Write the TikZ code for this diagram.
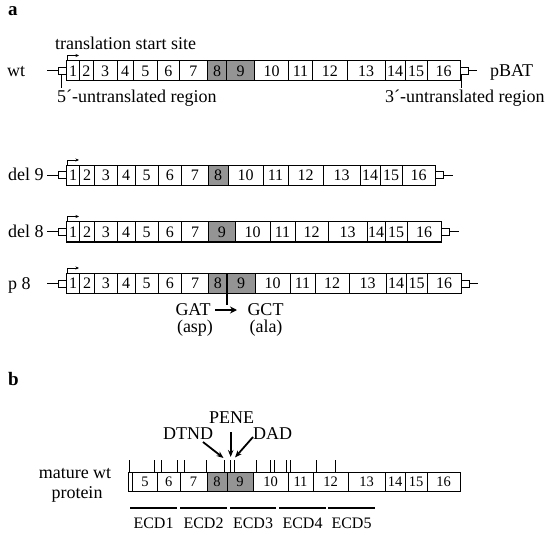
\documentclass[tikz,border=0pt]{standalone}
\usepackage{fontspec}
\setmainfont{Liberation Serif}
\usetikzlibrary{arrows.meta}
\tikzset{
  exon/.style={draw, line width=1pt, inner sep=0pt, outer sep=0pt, minimum height=20pt, font=\fontsize{16}{16}\selectfont},
  pexon/.style={exon, minimum height=19pt, font=\fontsize{14.5}{15}\selectfont},
  utr/.style={draw, line width=1pt, inner sep=0pt, outer sep=0pt, minimum width=8pt, minimum height=7pt},
  lbl/.style={inner sep=0pt, font=\fontsize{18}{18}\selectfont},
  ecdlbl/.style={inner sep=0pt, font=\fontsize{16}{16}\selectfont},
  panel/.style={inner sep=0pt, font=\fontsize{19}{19}\selectfont\bfseries},
  wire/.style={line width=1pt},
  startarrow/.style={line width=0.8pt, -{Stealth[length=3.5pt,width=3pt]}},
  tickmark/.style={line width=0.9pt},
  bigarrow/.style={line width=1.8pt, -{Stealth[length=7pt,width=5.5pt]}},
  ecdline/.style={line width=1.3pt},
}
\definecolor{exgray}{gray}{0.58}
\newcommand\generow[3]{%
  \foreach \a/\b/\t/\f in {#3} {
    \node[exon, fill=\f, minimum width={(\b-\a)*1pt}] (#1-\t) at ({(\a+\b)/2},#2) {\t};
  }
}
\newcommand\makeutr[4]{% name, y, left line x, right line x
  \node[utr, anchor=east] (#1-u5) at (#1-1.west) {};
  \node[utr, anchor=west] (#1-u3) at (#1-16.east) {};
  \coordinate (#1-l) at (#3,#2);
  \coordinate (#1-r) at (#4,#2);
  \draw[wire] (#1-l) -- (#1-u5.west);
  \draw[wire] (#1-u3.east) -- (#1-r);
  \draw[startarrow] ([xshift=0.8pt]#1-1.north west) -- ++(0,-5.5) -- ++(11.5,0);
}
\begin{document}
\begin{tikzpicture}[x=1pt,y=-1pt]
\useasboundingbox (0,0) rectangle (550,535);

% ---------- panel a ----------
\node[panel, anchor=base west] (pa) at (8,16) {a};

% wt
\generow{wt}{71}{66.7/79.5/1/white, 79.5/93/2/white, 93/117/3/white, 117/133/4/white, 133/157.5/5/white, 157.5/179/6/white, 179/207.5/7/white, 207.5/226.5/8/exgray, 226.5/254.5/9/exgray, 254.5/288.5/10/white, 288.5/312.5/11/white, 312.5/347/12/white, 347/385/13/white, 385/405/14/white, 405/427/15/white, 427/460/16/white}
\makeutr{wt}{71}{47}{477}
\node[lbl, anchor=base west] (wtname) at (7,77) {wt};
\node[lbl, anchor=base west] (tss) at (55,50) {translation start site};
\node[lbl, anchor=base west] (pbat) at (490,77) {pBAT};
\draw[wire] ([xshift=2.5pt]wt-u5.south west) -- ++(0,14);
\draw[wire] ([xshift=1.2pt]wt-u3.south west) -- ++(0,14);
\node[lbl, anchor=base west] (utr5) at (57,103) {5´-untranslated region};
\node[lbl, anchor=base west] (utr3) at (385,103) {3´-untranslated region};

% del 9
\generow{dnine}{175.5}{66.7/79.5/1/white, 79.5/94.5/2/white, 94.5/117/3/white, 117/135/4/white, 135/158/5/white, 158/181.5/6/white, 181.5/208/7/white, 208/228/8/exgray, 228/263/10/white, 263/288/11/white, 288/323/12/white, 323/360/13/white, 360/380/14/white, 380/402/15/white, 402/435/16/white}
\makeutr{dnine}{175.5}{47}{453}
\node[lbl, anchor=base west] (dninename) at (8,181) {del 9};

% del 8
\generow{deight}{232}{66.7/79.5/1/white, 79.5/94.5/2/white, 94.5/117/3/white, 117/135/4/white, 135/158/5/white, 158/181.5/6/white, 181.5/208.5/7/white, 208.5/235/9/exgray, 235/270/10/white, 270/295/11/white, 295/328/12/white, 328/367/13/white, 367/385/14/white, 385/407/15/white, 407/441/16/white}
\makeutr{deight}{232}{47}{459}
\node[lbl, anchor=base west] (deightname) at (8,237.5) {del 8};

% p 8
\generow{pe}{283.5}{66.7/79.5/1/white, 79.5/94.5/2/white, 94.5/117/3/white, 117/135/4/white, 135/158/5/white, 158/181.5/6/white, 181.5/208.5/7/white, 208.5/227/8/exgray, 227/255/9/exgray, 255/290/10/white, 290/315/11/white, 315/349/12/white, 349/386/13/white, 386/406/14/white, 406/427/15/white, 427/461/16/white}
\makeutr{pe}{283.5}{47}{478}
\node[lbl, anchor=base west] (pename) at (8,289) {p 8};
\coordinate (mutend) at (227,305);
\draw[line width=1.8pt] (pe-8.north east) -- (mutend);
\node[lbl, anchor=base] (gat) at (193,315) {GAT};
\node[lbl, anchor=base] (asp) at (195,332) {(asp)};
\node[lbl, anchor=base] (gct) at (265.5,315) {GCT};
\node[lbl, anchor=base] (ala) at (266,332) {(ala)};
\coordinate (mutA) at (215,310);
\coordinate (mutB) at (237,310);
\draw[line width=2pt, -{Stealth[length=7pt,width=7pt]}] (mutA) -- (mutB);

% ---------- panel b ----------
\node[panel, anchor=base west] (pb) at (8,385) {b};

\node[pexon, minimum width=4.7pt, anchor=east] (prot-sig) at (132.7,481.5) {};
\foreach \a/\b/\t/\f in {132.7/157.5/5/white, 157.5/180/6/white, 180/207/7/white, 207/227/8/exgray, 227/253/9/exgray, 253/288/10/white, 288/313/11/white, 313/348/12/white, 348/385/13/white, 385/405/14/white, 405/427/15/white, 427/460/16/white} {
  \node[pexon, fill=\f, minimum width={(\b-\a)*1pt}] (prot-\t) at ({(\a+\b)/2},481.5) {\t};
}
\foreach \x in {129.5,154,161.7,177.5,184,206,224,230.7,234,256,270.7,274,286,290.7,316.7,335} {
  \draw[tickmark] (\x,472) -- (\x,460);
}
\node[lbl, anchor=base] (mature) at (75,478) {mature wt};
\node[lbl, anchor=base] (protein) at (77,498) {protein};

\node[lbl, anchor=base west] (pene) at (209,423) {PENE};
\node[lbl, anchor=base west] (dtnd) at (163,439) {DTND};
\node[lbl, anchor=base west] (dad) at (253,439) {DAD};
\coordinate (peneS) at (230.7,432);
\coordinate (peneE) at (230.7,457);
\coordinate (dtndS) at (203,442);
\coordinate (dtndE) at (223.5,458);
\coordinate (dadS) at (253,437);
\coordinate (dadE) at (235,457.5);
\draw[bigarrow] (peneS) -- (peneE);
\draw[bigarrow] (dtndS) -- (dtndE);
\draw[bigarrow] (dadS) -- (dadE);

\foreach \n/\a/\b in {1/130/177, 2/180/227, 3/230/276, 4/279/326, 5/328/375} {
  \coordinate (ecd\n a) at (\a,508);
  \coordinate (ecd\n b) at (\b,508);
  \draw[ecdline] (ecd\n a) -- (ecd\n b);
  \node[ecdlbl, anchor=base] (ecd\n) at ({(\a+\b)/2},528) {ECD\n};
}
\end{tikzpicture}
\end{document}
